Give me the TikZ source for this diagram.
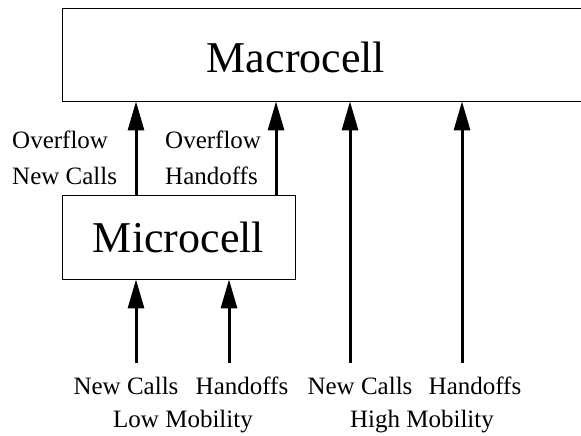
\documentclass[tikz,border=0pt]{standalone}
\usepackage{fontspec}
\setmainfont{Liberation Serif}
\usetikzlibrary{arrows.meta,positioning}

\begin{document}
\begin{tikzpicture}[x=1pt,y=1pt]
  \tikzset{cell node/.style={rectangle, draw, line width=0.8pt,
		inner sep=0pt, font=\fontsize{44}{44}\selectfont}, }
\tikzset{text node/.style={inner sep=0pt,
		font=\fontsize{25}{36}\selectfont}, }
\tikzset{linea/.style={line width=3pt,-{Triangle[length=29pt,width=16pt]}},}
  \useasboundingbox (0,0) rectangle (581,436);
    \node[cell node, minimum width=600pt, minimum height=93pt] (macro) at (362,381.5) {};
    \node[cell node, draw=none] (macrotext) at (296,378.5) {Macrocell};
    \node[cell node, minimum width=233pt, minimum height=84pt] (micro) at (178.5,199) {Microcell};
   \coordinate (lownew) at (136,73);
   \coordinate (lowhand) at (229,73);
   \coordinate (highnew) at (350,73);
   \coordinate (highhand) at (462,73);
   \coordinate (ovhand) at (276,241);
%
   \node[text node, anchor=north west, align=left] (ovnew) at (12,305) {Overflow\\New Calls};
   \node[text node, anchor=north west, align=left] (ovhandtext) at (165,305) {Overflow\\Handoffs};
   \node[text node, anchor=base] (lnlabel) at (126,41) {New Calls};
   \node[text node, anchor=base] (lhlabel) at (242,41) {Handoffs};
   \node[text node, anchor=base] (hnlabel) at (360,41) {New Calls};
   \node[text node, anchor=base] (hhlabel) at (475,41) {Handoffs};
   \node[text node, anchor=base] (lowmob) at (183,8) {Low Mobility};
   \node[text node, anchor=base] (highmob) at (422,8) {High Mobility};
%
\foreach \s in {lownew,lowhand}
  \draw[linea] (\s) -- (\s |- micro.south);
\foreach \s in {highnew,highhand}
  \draw[linea] (\s) -- (\s |- macro.south);
\foreach \s in {lownew,ovhand}
  \draw[linea] (\s |- micro.north) -- (\s |- macro.south);
%
\end{tikzpicture}
\end{document}
